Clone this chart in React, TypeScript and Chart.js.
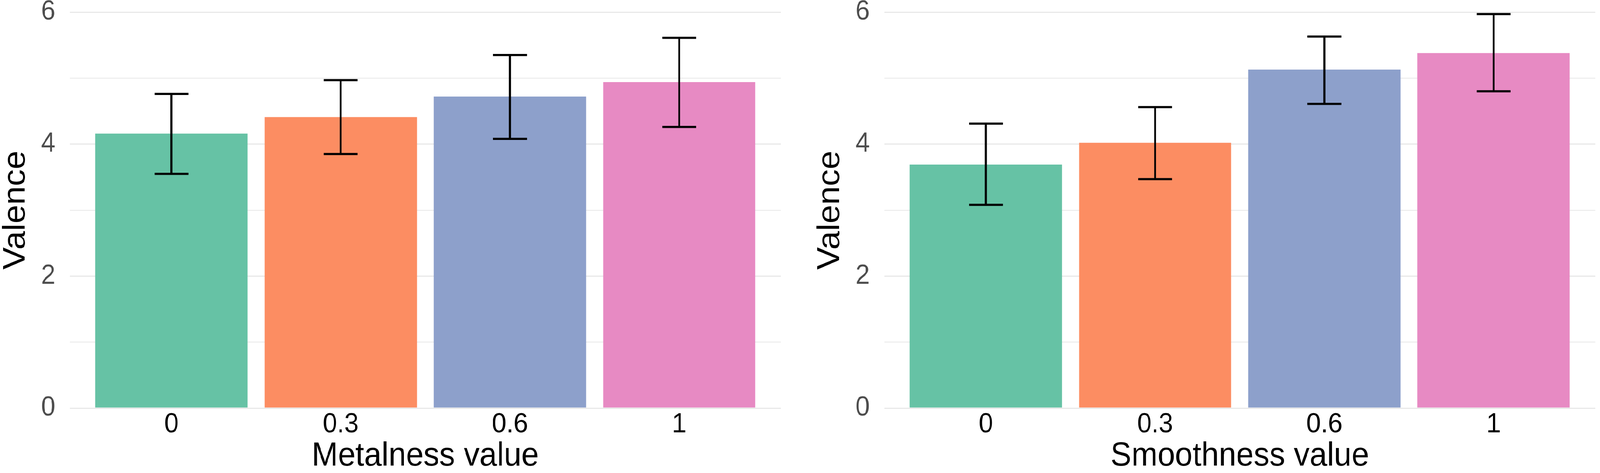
import React, { useEffect, useRef } from "react";
import { Chart, registerables } from "chart.js";

Chart.register(...registerables);

const categories = ["0", "0.3", "0.6", "1"];
const metalnessMeans = [4.16, 4.41, 4.72, 4.94];
const metalnessLower = [3.55, 3.85, 4.08, 4.26];
const metalnessUpper = [4.76, 4.97, 5.35, 5.61];
const smoothnessMeans = [3.69, 4.02, 5.13, 5.38];
const smoothnessLower = [3.08, 3.47, 4.61, 4.8];
const smoothnessUpper = [4.31, 4.56, 5.63, 5.97];
const barColors = ["#66C2A5", "#FC8D62", "#8DA0CB", "#E78AC3"];
const yTickValues = [0, 1, 2, 3, 4, 5, 6];
const yAxisTitle = "Valence";
const leftXTitle = "Metalness value";
const rightXTitle = "Smoothness value";

const FONT = "'Liberation Sans', Arial, Helvetica, sans-serif";
const DESIGN_W = 4328;
const DESIGN_H = 1210;
const Y_AXIS_WIDTH = 189;
const X_AXIS_HEIGHT = 166;

const errorBarPlugin = {
  id: "errorBars",
  afterDatasetsDraw(chart: any, _args: any, opts: any) {
    const { ctx } = chart;
    const x = chart.scales.x;
    const y = chart.scales.y;
    const lower: number[] = opts.lower;
    const upper: number[] = opts.upper;
    const capHalf = (x.getPixelForValue(1) - x.getPixelForValue(0)) * 0.1;
    ctx.save();
    ctx.strokeStyle = "#000000";
    ctx.lineWidth = 5.5;
    ctx.lineCap = "butt";
    for (let i = 0; i < lower.length; i++) {
      const px = x.getPixelForValue(i);
      const pLo = y.getPixelForValue(lower[i]);
      const pHi = y.getPixelForValue(upper[i]);
      ctx.beginPath();
      ctx.moveTo(px, pLo);
      ctx.lineTo(px, pHi);
      ctx.moveTo(px - capHalf, pLo);
      ctx.lineTo(px + capHalf, pLo);
      ctx.moveTo(px - capHalf, pHi);
      ctx.lineTo(px + capHalf, pHi);
      ctx.stroke();
    }
    ctx.restore();
  },
};

function makeConfig(means: number[], lower: number[], upper: number[], xTitle: string): any {
  return {
    type: "bar",
    data: {
      datasets: [
        {
          data: means.map((v, i) => ({ x: i, y: v })),
          backgroundColor: barColors,
          borderWidth: 0,
          barPercentage: 0.9,
          categoryPercentage: 1,
        },
      ],
    },
    plugins: [errorBarPlugin],
    options: {
      responsive: false,
      animation: false,
      devicePixelRatio: 1,
      layout: { padding: { top: 31, right: 13, left: 0, bottom: 0 } },
      plugins: {
        legend: { display: false },
        tooltip: { enabled: false },
        errorBars: { lower, upper },
      },
      scales: {
        x: {
          type: "linear",
          min: -0.6,
          max: 3.6,
          offset: false,
          grid: { display: false, drawTicks: false, tickLength: 0 },
          border: { display: false },
          afterBuildTicks: (s: any) => {
            s.ticks = categories.map((_, i) => ({ value: i }));
          },
          afterFit: (s: any) => {
            s.height = X_AXIS_HEIGHT;
            s.paddingLeft = 0;
            s.paddingRight = 0;
          },
          ticks: {
            autoSkip: false,
            maxRotation: 0,
            callback: (v: any) => categories[Number(v)],
            font: { family: FONT, size: 70, lineHeight: 1 },
            color: "#000000",
            padding: 8,
          },
          title: {
            display: true,
            text: xTitle,
            font: { family: FONT, size: 85, lineHeight: 1 },
            color: "#000000",
            padding: { top: 2, bottom: 0 },
          },
        },
        y: {
          min: 0,
          max: 6,
          grid: {
            color: "#E8E8E8",
            lineWidth: (c: any) => (c.tick && c.tick.value % 2 === 0 ? 3 : 2),
            drawTicks: false,
            tickLength: 0,
          },
          border: { display: false },
          afterBuildTicks: (s: any) => {
            s.ticks = yTickValues.map((v) => ({ value: v }));
          },
          afterFit: (s: any) => {
            s.width = Y_AXIS_WIDTH;
            s.paddingTop = 0;
            s.paddingBottom = 0;
          },
          ticks: {
            callback: (v: any) => (Number(v) % 2 === 0 ? String(v) : ""),
            font: { family: FONT, size: 70, lineHeight: 0.8 },
            color: "#4D4D4D",
            padding: 39,
          },
          title: {
            display: true,
            text: yAxisTitle,
            font: { family: FONT, size: 86, lineHeight: 1 },
            color: "#000000",
            padding: { top: 0, bottom: 25 },
          },
        },
      },
    },
  };
}

export default function App() {
  const leftRef = useRef<HTMLCanvasElement | null>(null);
  const rightRef = useRef<HTMLCanvasElement | null>(null);

  const vw = typeof window !== "undefined" && window.innerWidth ? window.innerWidth : DESIGN_W;
  const vh = typeof window !== "undefined" && window.innerHeight ? window.innerHeight : DESIGN_H;
  const kx = vw / DESIGN_W;
  const ky = vh / DESIGN_H;

  useEffect(() => {
    const left = new Chart(
      leftRef.current as HTMLCanvasElement,
      makeConfig(metalnessMeans, metalnessLower, metalnessUpper, leftXTitle)
    );
    const right = new Chart(
      rightRef.current as HTMLCanvasElement,
      makeConfig(smoothnessMeans, smoothnessLower, smoothnessUpper, rightXTitle)
    );
    return () => {
      left.destroy();
      right.destroy();
    };
  }, []);

  return (
    <div
      style={{
        position: "fixed",
        left: 0,
        top: 0,
        width: vw,
        height: vh,
        background: "#ffffff",
        overflow: "hidden",
      }}
    >
      <div
        style={{
          position: "absolute",
          left: 0,
          top: 0,
          width: DESIGN_W,
          height: DESIGN_H,
          transform: `scale(${kx}, ${ky})`,
          transformOrigin: "0 0",
        }}
      >
        <canvas
          ref={leftRef}
          width={2125}
          height={1210}
          style={{ position: "absolute", left: 0, top: 0, width: 2125, height: 1210 }}
        />
        <canvas
          ref={rightRef}
          width={2125}
          height={1210}
          style={{ position: "absolute", left: 2203, top: 0, width: 2125, height: 1210 }}
        />
      </div>
    </div>
  );
}
